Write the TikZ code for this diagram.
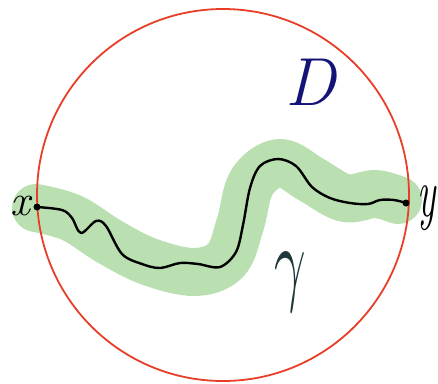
\documentclass[tikz,border=0pt]{standalone}
\usepackage{tikz}
\usetikzlibrary{positioning}
\definecolor{disc-red}{RGB}{232,62,40}
\definecolor{band-green}{RGB}{186,224,178}
\definecolor{label-navy}{RGB}{20,20,120}
\definecolor{label-slate}{RGB}{30,56,58}
\tikzset{
  domain-circle/.style={draw=disc-red, line width=1.8pt},
  path-band/.style={draw=band-green, line width=48pt, line cap=round, line join=round},
  path-curve/.style={draw=black, line width=2.4pt, line cap=round, line join=round},
  end-dot/.style={circle, fill=black, inner sep=0pt, minimum size=7pt},
  hand-label/.style={inner sep=0pt, font=\itshape}
}
\begin{document}
\begin{tikzpicture}[x=1pt, y=-1pt]
  \useasboundingbox (0,0) rectangle (438,383);
  % neighbourhood of the path
  \draw[path-band] plot[smooth, tension=0.6] coordinates {(36,208) (72,218) (110,242) (150,262) (195,272) (226,260) (240,225) (252,182) (280,163) (312,180) (345,198) (375,194) (398,200)};
  % the domain
  \node[domain-circle, circle, minimum size=372pt, inner sep=0pt] (disc) at (223,195) {};
  % the path gamma
  \coordinate (xpt) at (37,207);
  \coordinate (ypt) at (406,203);
  \draw[path-curve] plot[smooth, tension=0.55] coordinates {(37,207) (62,210) (72,218) (81,233) (96,221) (106,226) (122,254) (142,264) (160,268) (180,263) (198,264) (220,267) (236,252) (243,225) (250,188) (260,166) (278,159) (296,166) (312,187) (330,198) (350,203) (368,204) (380,200) (394,200) (406,203)};
  \node[end-dot] (xdot) at (xpt) {};
  \node[end-dot] (ydot) at (ypt) {};
  % labels
  \node[hand-label, font=\itshape\fontsize{44}{44}\selectfont, left=3pt of xdot, yshift=1pt] (xlab) {x};
  \node[hand-label, font=\itshape\fontsize{70}{70}\selectfont, xscale=0.55, anchor=west] (ylab) at (417,208) {y};
  \node[hand-label, text=label-navy, font=\itshape\fontsize{68}{68}\selectfont] (dlab) at (311,82) {D};
  \node[hand-label, text=label-slate, xscale=5.5, yscale=9.5] (glab) at (290,282) {$\gamma$};
\end{tikzpicture}
\end{document}
